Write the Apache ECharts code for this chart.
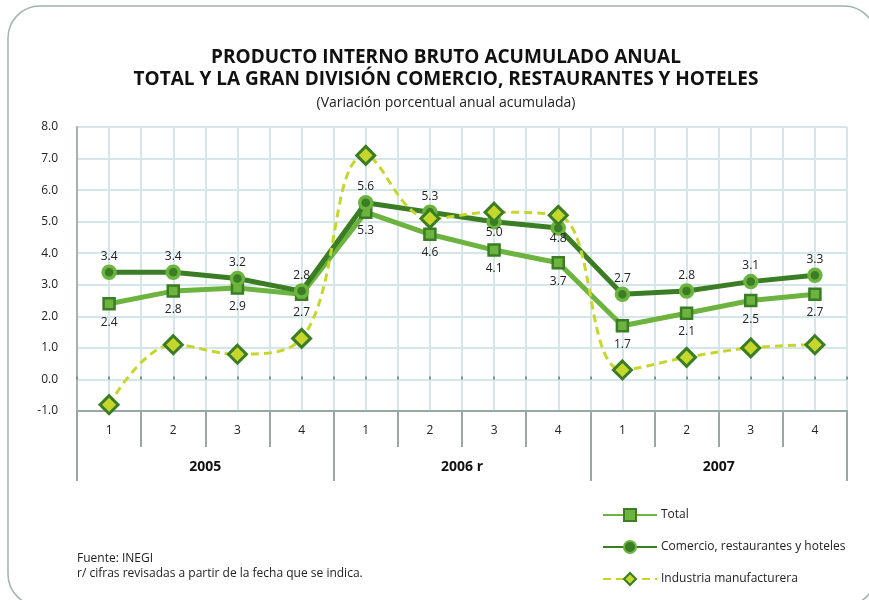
<!DOCTYPE html>
<html>
<head>
<meta charset="utf-8">
<script src="https://cdn.jsdelivr.net/npm/echarts@6/dist/echarts.min.js"></script>
<style>
html, body { margin: 0; padding: 0; background: #fff; }
#chart { width: 869px; height: 600px; }
</style>
</head>
<body>
<div id="chart"></div>
<script>
// datos
const quarters = ['1', '2', '3', '4', '1', '2', '3', '4', '1', '2', '3', '4'];
const years = ['2005', '2006 r', '2007'];
const total = [2.4, 2.8, 2.9, 2.7, 5.3, 4.6, 4.1, 3.7, 1.7, 2.1, 2.5, 2.7];
const comercio = [3.4, 3.4, 3.2, 2.8, 5.6, 5.3, 5.0, 4.8, 2.7, 2.8, 3.1, 3.3];
const industria = [-0.8, 1.1, 0.8, 1.3, 7.1, 5.1, 5.3, 5.2, 0.3, 0.7, 1.0, 1.1];

const FONT = 'Open Sans';
const verdeClaro = '#6cb33f';
const verdeOscuro = '#3a7d24';
const amarillo = '#c5d72c';
const gris = '#9aa8a2';
const rejilla = '#d4e6e9';

// etiquetas de comercio que van debajo del punto (2006 T3 y T4)
const comercioAbajo = [6, 7];

function fmt(p){ return p.value.toFixed(1); }

var comercioData = comercio.map(function(v, i){
	if(comercioAbajo.indexOf(i) >= 0){
		return { value: v, label: { position: 'bottom', distance: -3 } };
	}
	return v;
});

var myChart = echarts.init(document.getElementById('chart'));
var option = {
	animation: false,
	textStyle: { fontFamily: FONT },
	title: [
		{
			text: 'PRODUCTO INTERNO BRUTO ACUMULADO ANUAL\nTOTAL Y LA GRAN DIVISIÓN COMERCIO, RESTAURANTES Y HOTELES',
			left: 441, top: 42, textAlign: 'center',
			textStyle: { fontFamily: FONT, fontSize: 19, fontWeight: 'bold', color: '#111', lineHeight: 22 }
		},
		{
			text: '(Variación porcentual anual acumulada)',
			left: 441, top: 91, textAlign: 'center',
			textStyle: { fontFamily: FONT, fontSize: 14, fontWeight: 'normal', color: '#222' }
		}
	],
	graphic: [
		{
			type: 'rect', silent: true, z: -10,
			shape: { x: 8, y: 6, width: 868, height: 600, r: 32 },
			style: { fill: 'none', stroke: '#a3b3ad', lineWidth: 1.5 }
		},
		{
			type: 'text', left: 77, top: 551,
			style: {
				text: 'Fuente: INEGI\nr/ cifras revisadas a partir de la fecha que se indica.',
				font: '12px "Open Sans"', fill: '#222', lineHeight: 15
			}
		}
	],
	legend: {
		orient: 'vertical', left: 597, top: 503, itemGap: 18,
		itemWidth: 54, itemHeight: 15,
		textStyle: { fontFamily: FONT, fontSize: 12, color: '#222', padding: [0, 0, 0, -1] },
		data: ['Total', 'Comercio, restaurantes y hoteles', 'Industria manufacturera']
	},
	grid: { left: 77, right: 22, top: 127, bottom: 189 },
	xAxis: [
		{
			type: 'category', data: quarters, position: 'bottom',
			axisLine: { onZero: false, lineStyle: { color: gris, width: 2 } },
			axisTick: { show: true, length: 36, lineStyle: { color: gris, width: 2 } },
			axisLabel: { margin: 14, fontSize: 12, color: '#222', fontFamily: FONT },
			splitLine: { show: false }
		},
		{
			type: 'category', data: years, position: 'bottom',
			axisLine: { onZero: false, lineStyle: { color: gris, width: 2 } },
			axisTick: { show: true, length: 70, lineStyle: { color: gris, width: 2 } },
			axisLabel: { margin: 49, fontSize: 14, fontWeight: 'bold', color: '#111', fontFamily: FONT },
			splitLine: { show: false }
		},
		{
			// rejilla vertical cada medio trimestre
			type: 'value', min: 0, max: 24, interval: 1,
			axisLine: { show: false, onZero: true },
			axisTick: { show: true, inside: false, length: 3, lineStyle: { color: '#7f8f89', width: 2 } },
			axisLabel: { show: false },
			splitLine: { show: true, lineStyle: { color: rejilla, width: 2 } }
		}
	],
	yAxis: {
		type: 'value', min: -1, max: 8, interval: 1,
		axisLine: { show: true, lineStyle: { color: '#aab2b0', width: 2 } },
		axisTick: { show: false },
		axisLabel: { margin: 19, fontSize: 12, color: '#222', fontFamily: FONT,
			formatter: function(v){ return v.toFixed(1); } },
		splitLine: { show: true, lineStyle: { color: rejilla, width: 2 } }
	},
	series: [
		{
			name: 'Total', type: 'line', xAxisIndex: 0, data: total,
			symbol: 'rect', symbolSize: 11,
			lineStyle: { color: verdeClaro, width: 5 },
			itemStyle: { color: verdeClaro, borderColor: verdeOscuro, borderWidth: 2.5 },
			label: { show: true, position: 'bottom', distance: 6, fontSize: 12, color: '#222',
				fontFamily: FONT, formatter: fmt },
			z: 3
		},
		{
			name: 'Comercio, restaurantes y hoteles', type: 'line', xAxisIndex: 0, data: comercioData,
			symbol: 'circle', symbolSize: 12,
			lineStyle: { color: verdeOscuro, width: 5 },
			itemStyle: { color: verdeOscuro, borderColor: verdeClaro, borderWidth: 3.5 },
			label: { show: true, position: 'top', distance: 2, fontSize: 12, color: '#222',
				fontFamily: FONT, formatter: fmt },
			z: 4
		},
		{
			name: 'Industria manufacturera', type: 'line', xAxisIndex: 0, data: industria,
			smooth: 0.4,
			symbol: 'diamond', symbolSize: 18,
			lineStyle: { color: amarillo, width: 3, type: [8, 5] },
			itemStyle: { color: amarillo, borderColor: verdeOscuro, borderWidth: 3 },
			label: { show: false },
			z: 5
		}
	]
};
myChart.setOption(option);
</script>
</body>
</html>
